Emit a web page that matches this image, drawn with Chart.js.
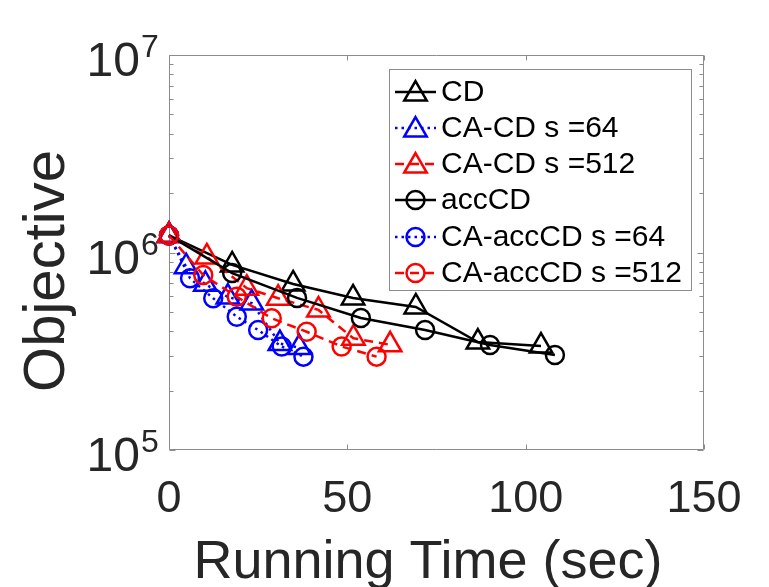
<!DOCTYPE html>
<html>
<head>
<meta charset="utf-8">
<script src="https://cdn.jsdelivr.net/npm/chart.js@4/dist/chart.umd.min.js"></script>
<style>
html,body{margin:0;padding:0;background:#fff;}
#wrap{width:769px;height:587px;position:relative;}
</style>
</head>
<body>
<div id="wrap"><canvas id="c" width="769" height="587"></canvas></div>
<script>
// ---- data ----
const timeCD       = [0, 17.7, 34.8, 51.6, 69.2, 86.6, 104.3];
const objCD        = [1.22e6, 8.65e5, 6.93e5, 5.89e5, 5.30e5, 3.52e5, 3.36e5];
const timeCACD64   = [0, 4.8, 10.2, 16.5, 23.2, 31.1, 36.5];
const objCACD64    = [1.22e6, 8.47e5, 6.9e5, 5.95e5, 5.55e5, 3.46e5, 3.3e5];
const timeCACD512  = [0, 10.6, 21.8, 30.6, 41.9, 51.7, 62.0];
const objCACD512   = [1.22e6, 9.5e5, 6.6e5, 5.87e5, 5.12e5, 3.68e5, 3.41e5];
const timeAccCD    = [0, 17.7, 35.9, 53.8, 71.8, 90.0, 108.2];
const objAccCD     = [1.22e6, 7.87e5, 5.89e5, 4.66e5, 4.05e5, 3.40e5, 3.03e5];
const timeCAAcc64  = [0, 5.9, 12.4, 19.0, 25.0, 31.6, 37.7];
const objCAAcc64   = [1.22e6, 7.40e5, 5.86e5, 4.73e5, 4.05e5, 3.34e5, 2.97e5];
const timeCAAcc512 = [0, 9.6, 19.0, 28.8, 38.6, 48.4, 58.2];
const objCAAcc512  = [1.22e6, 7.69e5, 5.97e5, 4.64e5, 3.97e5, 3.34e5, 2.97e5];

const seriesNames = ['CD', 'CA-CD s =64', 'CA-CD s =512', 'accCD', 'CA-accCD s =64', 'CA-accCD s =512'];
const xTickValues = [0, 50, 100, 150];
const yTickExponents = [5, 6, 7];
const xTitle = 'Running Time (sec)';
const yTitle = 'Objective';

// ---- styles ----
const FONT = '"Liberation Sans", Arial, Helvetica, sans-serif';
const TEXT = '#262626';
const AXIS = '#8c8c8c';
const LW = 2.5;
const DOT = [2.5, 4];
const DASH = [9, 6];
const TRI_R = 13, CIR_R = 9;

const styles = [
  {color: '#000000', marker: 'triangle', dash: []},
  {color: '#0000ff', marker: 'triangle', dash: DOT},
  {color: '#ff0000', marker: 'triangle', dash: DASH},
  {color: '#000000', marker: 'circle', dash: []},
  {color: '#0000ff', marker: 'circle', dash: DOT},
  {color: '#ff0000', marker: 'circle', dash: DASH}
];
const seriesX = [timeCD, timeCACD64, timeCACD512, timeAccCD, timeCAAcc64, timeCAAcc512];
const seriesY = [objCD, objCACD64, objCACD512, objAccCD, objCAAcc64, objCAAcc512];

const datasets = seriesNames.map((name, i) => ({
  label: name,
  data: seriesX[i].map((x, k) => ({x: x, y: seriesY[i][k]})),
  borderColor: styles[i].color,
  backgroundColor: 'rgba(0,0,0,0)',
  borderWidth: LW,
  borderDash: styles[i].dash,
  pointStyle: styles[i].marker,
  pointRadius: styles[i].marker === 'triangle' ? TRI_R : CIR_R,
  pointBorderWidth: LW,
  pointBorderColor: styles[i].color,
  pointBackgroundColor: 'rgba(0,0,0,0)',
  fill: false,
  tension: 0,
  clip: false,
  order: seriesNames.length - 1 - i
}));

function drawMarker(ctx, style, x, y) {
  ctx.save();
  ctx.setLineDash([]);
  ctx.strokeStyle = style.color;
  ctx.lineWidth = LW;
  ctx.beginPath();
  if (style.marker === 'circle') {
    ctx.arc(x, y, CIR_R, 0, Math.PI * 2);
  } else {
    let rad = 0;
    ctx.moveTo(x + Math.sin(rad) * TRI_R, y - Math.cos(rad) * TRI_R);
    rad += 2 * Math.PI / 3;
    ctx.lineTo(x + Math.sin(rad) * TRI_R, y - Math.cos(rad) * TRI_R);
    rad += 2 * Math.PI / 3;
    ctx.lineTo(x + Math.sin(rad) * TRI_R, y - Math.cos(rad) * TRI_R);
    ctx.closePath();
  }
  ctx.stroke();
  ctx.restore();
}

const framePlugin = {
  id: 'frame',
  beforeDatasetsDraw(chart) {
    const ctx = chart.ctx, a = chart.chartArea;
    const xs = chart.scales.x, ys = chart.scales.y;
    ctx.save();
    ctx.strokeStyle = AXIS;
    ctx.lineWidth = 1;
    const L = Math.round(a.left) + 0.5, R = Math.round(a.right) - 0.5;
    const T = Math.round(a.top) + 0.5, B = Math.round(a.bottom) - 0.5;
    ctx.beginPath();
    ctx.rect(L, T, R - L, B - T);
    // x ticks
    xTickValues.forEach(v => {
      const px = Math.round(xs.getPixelForValue(v)) + 0.5;
      ctx.moveTo(px, B); ctx.lineTo(px, B - 5);
      ctx.moveTo(px, T); ctx.lineTo(px, T + 5);
    });
    // y ticks (major + minor, log)
    const eMax = yTickExponents[yTickExponents.length - 1];
    for (let e = yTickExponents[0]; e <= eMax; e++) {
      for (let m = 1; m <= 9; m++) {
        const v = m * Math.pow(10, e);
        if (v > Math.pow(10, eMax)) break;
        const py = Math.round(ys.getPixelForValue(v)) + 0.5;
        const len = m === 1 ? 6 : 4;
        ctx.moveTo(L, py); ctx.lineTo(L + len, py);
        ctx.moveTo(R, py); ctx.lineTo(R - len, py);
      }
    }
    ctx.stroke();

    // tick labels
    ctx.fillStyle = TEXT;
    ctx.font = '45px ' + FONT;
    ctx.textAlign = 'center';
    ctx.textBaseline = 'alphabetic';
    xTickValues.forEach(v => {
      ctx.fillText(String(v), xs.getPixelForValue(v), 512);
    });
    yTickExponents.forEach(e => {
      const py = ys.getPixelForValue(Math.pow(10, e));
      ctx.font = '48px ' + FONT;
      ctx.textAlign = 'right';
      ctx.fillText('10', 140, py + 21);
      ctx.font = '32px ' + FONT;
      ctx.textAlign = 'left';
      ctx.fillText(String(e), 141, py + 2);
    });

    // axis titles
    ctx.font = '54px ' + FONT;
    ctx.textAlign = 'center';
    ctx.fillText(xTitle, 428, 578);
    ctx.save();
    ctx.translate(64, 271);
    ctx.rotate(-Math.PI / 2);
    ctx.font = '58px ' + FONT;
    ctx.fillText(yTitle, 0, 0);
    ctx.restore();
    ctx.restore();
  },
  afterDraw(chart) {
    const ctx = chart.ctx;
    ctx.save();
    // legend box
    const bx = 389.5, by = 69.5, bw = 302, bh = 221;
    ctx.fillStyle = '#ffffff';
    ctx.fillRect(bx, by, bw, bh);
    ctx.strokeStyle = AXIS;
    ctx.lineWidth = 1;
    ctx.strokeRect(bx, by, bw, bh);
    const rowY = [92, 128, 164, 200, 237, 273];
    seriesNames.forEach((name, i) => {
      const st = styles[i];
      const y = rowY[i];
      ctx.save();
      ctx.strokeStyle = st.color;
      ctx.lineWidth = LW;
      ctx.setLineDash(st.dash);
      ctx.beginPath();
      ctx.moveTo(395, y); ctx.lineTo(436, y);
      ctx.stroke();
      ctx.restore();
      drawMarker(ctx, st, 415.5, st.marker === 'triangle' ? y + 2 : y);
      ctx.fillStyle = '#000000';
      ctx.font = '30px ' + FONT;
      ctx.textAlign = 'left';
      ctx.textBaseline = 'middle';
      ctx.fillText(name, 441, y + 1);
    });
    ctx.restore();
  }
};

new Chart(document.getElementById('c'), {
  type: 'line',
  data: {datasets: datasets},
  options: {
    responsive: false,
    animation: false,
    devicePixelRatio: 1,
    layout: {padding: {left: 169, top: 55, right: 65, bottom: 137}},
    plugins: {legend: {display: false}, tooltip: {enabled: false}, title: {display: false}},
    scales: {
      x: {type: 'linear', min: 0, max: 150, display: false},
      y: {type: 'logarithmic', min: 1e5, max: 1e7, display: false}
    }
  },
  plugins: [framePlugin]
});
</script>
</body>
</html>
